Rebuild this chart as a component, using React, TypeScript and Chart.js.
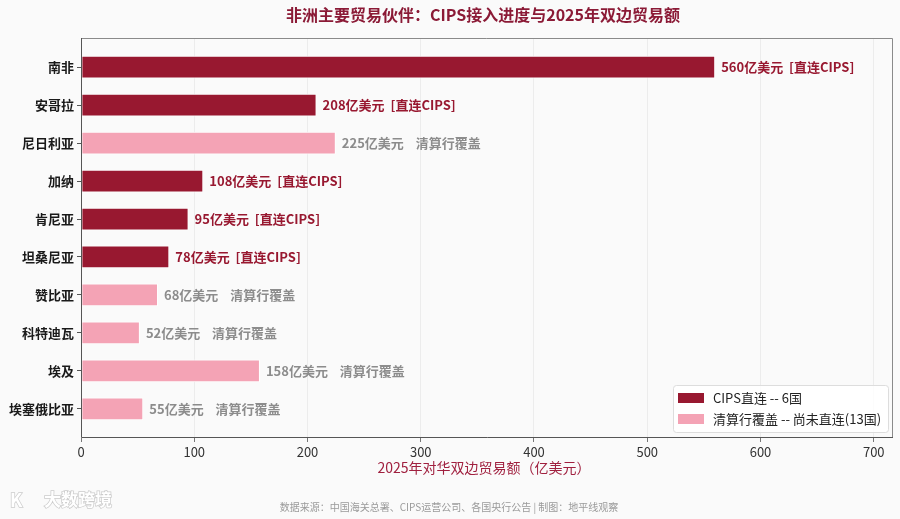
import React, { useEffect, useRef } from "react";
import { Chart, registerables } from "chart.js";

Chart.register(...registerables);

const countries = ["南非", "安哥拉", "尼日利亚", "加纳", "肯尼亚", "坦桑尼亚", "赞比亚", "科特迪瓦", "埃及", "埃塞俄比亚"];
const tradeValues = [560, 208, 225, 108, 95, 78, 68, 52, 158, 55];
const cipsDirect = [true, true, false, true, true, true, false, false, false, false];
const xTickValues = [0, 100, 200, 300, 400, 500, 600, 700];
const legendLabels = ["CIPS直连 -- 6国", "清算行覆盖 -- 尚未直连(13国)"];

const TITLE = "非洲主要贸易伙伴：CIPS接入进度与2025年双边贸易额";
const X_TITLE = "2025年对华双边贸易额（亿美元）";
const FOOTER = "数据来源：中国海关总署、CIPS运营公司、各国央行公告 | 制图：地平线观察";
const WATERMARK = "大数跨境";

const DARK = "#981830";
const LIGHT = "#F4A3B5";
const FONT = "'Noto Sans CJK SC', 'Noto Sans', sans-serif";

export default function App() {
  const ref = useRef<HTMLCanvasElement>(null);

  useEffect(() => {
    if (!ref.current) return;
    document.body.style.margin = "0";

    const directData = countries
      .map((_, i) => (cipsDirect[i] ? { x: tradeValues[i], y: i } : null))
      .filter(Boolean);
    const clearData = countries
      .map((_, i) => (!cipsDirect[i] ? { x: tradeValues[i], y: i } : null))
      .filter(Boolean);

    const decor = {
      id: "decor",
      beforeDraw(chart: any) {
        const { ctx, width, height } = chart;
        ctx.save();
        ctx.fillStyle = "#fafafa";
        ctx.fillRect(0, 0, width, height);
        ctx.restore();
      },
      afterDraw(chart: any) {
        const { ctx, chartArea: ca } = chart;
        ctx.save();
        // frame
        ctx.lineWidth = 1;
        ctx.strokeStyle = "#8a8a8a";
        ctx.beginPath();
        ctx.moveTo(ca.left, ca.top + 0.5);
        ctx.lineTo(ca.right - 0.5, ca.top + 0.5);
        ctx.lineTo(ca.right - 0.5, ca.bottom);
        ctx.stroke();
        ctx.strokeStyle = "#555";
        ctx.beginPath();
        ctx.moveTo(ca.left + 0.5, ca.top);
        ctx.lineTo(ca.left + 0.5, ca.bottom - 0.5);
        ctx.lineTo(ca.right, ca.bottom - 0.5);
        ctx.stroke();

        // value labels
        ctx.textBaseline = "middle";
        ctx.textAlign = "left";
        ctx.font = `bold 13px ${FONT}`;
        chart.data.datasets.forEach((ds: any, di: number) => {
          const meta = chart.getDatasetMeta(di);
          meta.data.forEach((el: any, j: number) => {
            const pt = ds.data[j];
            const v = pt.x;
            const isDirect = cipsDirect[pt.y];
            ctx.fillStyle = isDirect ? DARK : "#8c8c8c";
            const txt = isDirect ? `${v}亿美元  [直连CIPS]` : `${v}亿美元    清算行覆盖`;
            ctx.fillText(txt, el.x + 6, el.y);
          });
        });

        // title
        const cx = (ca.left + ca.right) / 2;
        ctx.textAlign = "center";
        ctx.fillStyle = "#8B1A36";
        ctx.font = `bold 16px ${FONT}`;
        ctx.fillText(TITLE, cx - 4, 15);

        // x axis title
        ctx.fillStyle = "#A0203F";
        ctx.font = `14px ${FONT}`;
        ctx.fillText(X_TITLE, cx - 3, 468);

        // footer
        ctx.fillStyle = "#9a9a9a";
        ctx.font = `10px ${FONT}`;
        ctx.fillText(FOOTER, 449, 507);

        // watermark
        ctx.textAlign = "left";
        ctx.font = `bold 17px ${FONT}`;
        ctx.lineWidth = 1.5;
        ctx.strokeStyle = "#cccccc";
        ctx.strokeText(WATERMARK, 44, 500);
        ctx.fillStyle = "#ffffff";
        ctx.fillText(WATERMARK, 44, 500);
        ctx.font = `bold 18px ${FONT}`;
        ctx.strokeText("K", 10, 500);
        ctx.fillText("K", 10, 500);

        // legend
        const lw = 215, lh = 47;
        const lx = ca.right - 5 - lw;
        const ly = ca.bottom - 6 - lh;
        ctx.fillStyle = "rgba(255,255,255,0.85)";
        ctx.strokeStyle = "#dddddd";
        ctx.lineWidth = 1;
        ctx.beginPath();
        ctx.roundRect(lx + 0.5, ly + 0.5, lw, lh, 3);
        ctx.fill();
        ctx.stroke();
        ctx.font = `13px ${FONT}`;
        ctx.textBaseline = "middle";
        const colors = [DARK, LIGHT];
        legendLabels.forEach((lab, i) => {
          const y = ly + 13 + i * 21;
          ctx.fillStyle = colors[i];
          ctx.fillRect(lx + 5, y - 5, 26, 10);
          ctx.fillStyle = "#222";
          ctx.fillText(lab, lx + 40, y);
        });
        ctx.restore();
      },
    };

    const chart = new Chart(ref.current, {
      type: "bar",
      data: {
        datasets: [
          {
            label: legendLabels[0],
            data: directData as any,
            backgroundColor: DARK,
            borderColor: "#ffffff",
            borderWidth: 1,
            borderSkipped: false,
            grouped: false,
            barPercentage: 0.6,
            categoryPercentage: 1,
          },
          {
            label: legendLabels[1],
            data: clearData as any,
            backgroundColor: LIGHT,
            borderColor: "#ffffff",
            borderWidth: 1,
            borderSkipped: false,
            grouped: false,
            barPercentage: 0.6,
            categoryPercentage: 1,
          },
        ],
      },
      options: {
        indexAxis: "y",
        animation: false,
        responsive: false,
        devicePixelRatio: 1,
        layout: { padding: { left: 0, top: 38, right: 7, bottom: 0 } },
        plugins: {
          legend: { display: false },
          title: { display: false },
          tooltip: { enabled: false },
        },
        scales: {
          x: {
            type: "linear",
            min: 0,
            max: 717,
            offset: false,
            afterBuildTicks: (scale: any) => {
              scale.ticks = xTickValues.map((v) => ({ value: v }));
            },
            afterFit: (scale: any) => {
              scale.height = 81;
            },
            grid: {
              color: "#e8e8e8",
              lineWidth: 0.8,
              offset: false,
              drawTicks: true,
              tickLength: 4,
              tickColor: "#555",
            },
            border: { display: false },
            ticks: {
              color: "#333",
              font: { size: 13, family: FONT },
              padding: 2,
            },
          },
          y: {
            type: "linear",
            min: -0.77,
            max: 9.77,
            reverse: true,
            offset: false,
            afterBuildTicks: (scale: any) => {
              scale.ticks = countries.map((_, i) => ({ value: i }));
            },
            afterFit: (scale: any) => {
              scale.width = 81;
            },
            grid: {
              color: "transparent",
              offset: false,
              drawTicks: true,
              tickLength: 4,
              tickColor: "#555",
            },
            border: { display: false },
            ticks: {
              color: "#1a1a1a",
              font: { size: 13, weight: "bold", family: FONT },
              padding: 3,
              callback: (v: any) => countries[Number(v)] ?? "",
            },
          },
        },
      },
      plugins: [decor],
    } as any);

    return () => chart.destroy();
  }, []);

  return (
    <div style={{ position: "fixed", left: 0, top: 0, width: 900, height: 519, background: "#fafafa" }}>
      <canvas ref={ref} width={900} height={519} style={{ width: 900, height: 519, display: "block" }} />
    </div>
  );
}
